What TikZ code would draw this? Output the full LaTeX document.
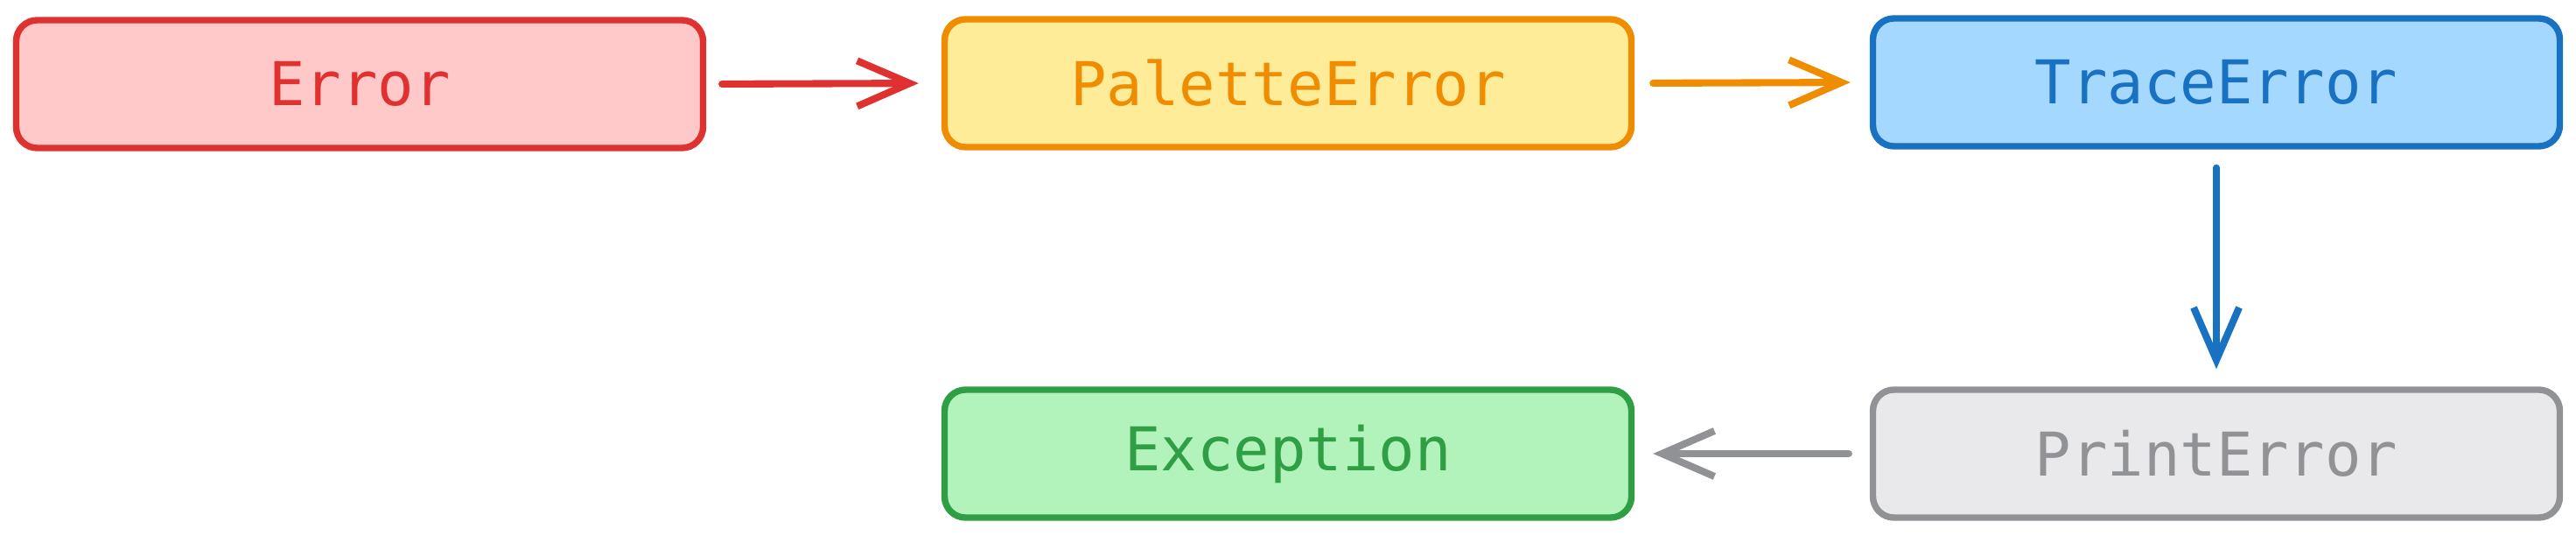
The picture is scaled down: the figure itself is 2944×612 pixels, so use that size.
\documentclass[tikz,border=0pt]{standalone}
\usepackage{fontspec}
\newfontfamily\boxfont{DejaVu Sans Mono}
\usetikzlibrary{arrows.meta}
\definecolor{redS}{HTML}{E03131}\definecolor{redF}{HTML}{FFC9C9}
\definecolor{oraS}{HTML}{F08C00}\definecolor{oraF}{HTML}{FFEC99}
\definecolor{bluS}{HTML}{1971C2}\definecolor{bluF}{HTML}{A5D8FF}
\definecolor{graS}{HTML}{909296}\definecolor{graF}{HTML}{E9E9EB}
\definecolor{grnS}{HTML}{2F9E44}\definecolor{grnF}{HTML}{B2F2BB}
\tikzset{
  cls/.style n args={2}{draw=#1, fill=#2, text=#1, line width=2.1pt,
    rounded corners=2.4mm, minimum width=78.5mm, minimum height=14.6mm,
    font=\boxfont\fontsize{19.6}{23}\selectfont, inner sep=0pt},
  link/.style={draw=#1, line width=2.3pt, line cap=round,
    -{Straight Barb[length=6mm, width=5.2mm, line width=2.3pt]}},
}
\begin{document}
\begin{tikzpicture}[x=0.1mm, y=-0.1mm]
\useasboundingbox (0,0) rectangle (2944,612);
\node[cls={redS}{redF}] (err) at (411,96) {Error};
\node[cls={oraS}{oraF}] (pal) at (1472,95) {PaletteError};
\node[cls={bluS}{bluF}] (trc) at (2533,94) {TraceError};
\node[cls={graS}{graF}] (prt) at (2533,518) {PrintError};
\node[cls={grnS}{grnF}] (exc) at (1472,518) {Exception};
\draw[link=redS, shorten <=1.8mm, shorten >=2.6mm] (err.east) -- (pal.west);
\draw[link=oraS, shorten <=2.1mm, shorten >=2.2mm] (pal.east) -- (trc.west);
\draw[link=bluS, shorten <=2.1mm, shorten >=2mm] (trc.south) -- (prt.north);
\draw[link=graS, shorten <=2.4mm, shorten >=2.1mm] (prt.west) -- (exc.east);
\end{tikzpicture}
\end{document}
